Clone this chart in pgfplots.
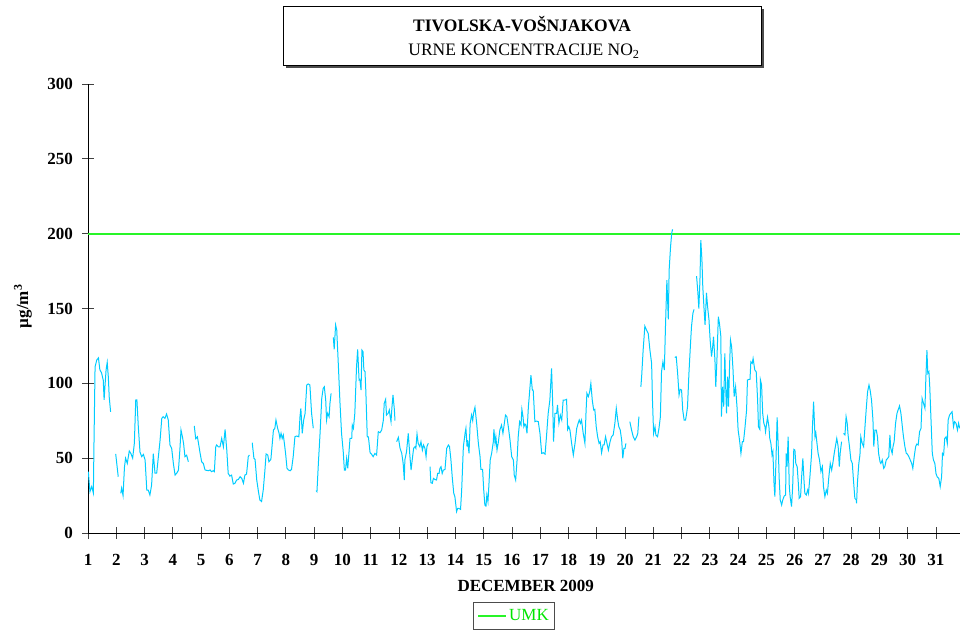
\documentclass[border=0pt]{standalone}
\usepackage{pgfplots}
\pgfplotsset{compat=1.18}
\usepackage{pgfplotstable}
\usepackage{fontspec}
\setmainfont{Liberation Serif}

\definecolor{nocyan}{RGB}{0,204,255}
\definecolor{umkgreen}{RGB}{40,245,40}
\definecolor{umktext}{RGB}{0,230,0}

% Hourly NO2 concentrations, December 2009 (day of month, ug/m3); nan = missing hours
\pgfplotstableread{
day no2
1.01 41
1.07 27.6
1.13 31
1.19 26.7
1.21 57.6
1.25 111
1.31 115.6
1.37 117
1.42 109
1.48 107
1.54 102
1.57 89
1.60 98
1.64 109
1.68 114
1.72 104
1.75 91
1.80 81
1.89 nan
1.98 52.8
2.07 37.6
2.12 nan
2.16 26.5
2.19 30
2.24 25
2.29 44
2.33 50
2.39 46.5
2.46 54.8
2.52 53
2.58 50
2.64 60
2.69 89
2.73 89
2.78 71
2.84 54
2.90 51
2.96 52.5
3.02 48.8
3.08 28.7
3.13 28.7
3.19 25.4
3.25 32
3.31 53
3.37 40
3.43 40
3.49 51
3.55 62
3.61 76.6
3.66 77.7
3.72 76.6
3.78 79.5
3.84 75.5
3.90 58.8
3.96 56.6
4.02 46.5
4.08 38.7
4.14 40
4.20 42
4.25 55.4
4.29 68.8
4.34 64.3
4.38 60
4.43 51
4.49 52
4.55 47.6
4.65 nan
4.76 71.5
4.81 63
4.87 64.3
4.90 61
4.96 54
5.02 47.6
5.08 46.5
5.14 42.1
5.26 41.6
5.32 42.1
5.37 41
5.43 41.6
5.47 41
5.52 57.6
5.55 58.8
5.61 57.6
5.67 57.6
5.73 63.2
5.79 57.6
5.85 69.2
5.91 55.4
5.96 39.8
6.02 38
6.08 38.7
6.14 32.7
6.20 33.2
6.26 35.4
6.32 35.8
6.38 37.6
6.44 36.5
6.50 33.2
6.55 38.7
6.61 39.4
6.67 51
6.71 52.1
6.76 nan
6.81 60.3
6.87 49.9
6.91 49.2
6.97 35.4
7.03 27.7
7.08 22.1
7.14 21
7.20 28.8
7.26 42.1
7.30 52.8
7.36 52.1
7.40 47.6
7.47 49.2
7.52 59.9
7.56 68.8
7.61 69.9
7.65 75.5
7.71 69.9
7.76 66.6
7.79 63.2
7.83 66.6
7.87 63.2
7.91 65.5
7.94 61
7.99 53.3
8.04 43.3
8.09 42.1
8.15 41.6
8.20 42.5
8.26 51
8.32 64.3
8.38 64.8
8.46 64.3
8.50 77.7
8.53 83.3
8.58 66.6
8.63 75.5
8.68 79.9
8.74 98.9
8.79 99.6
8.85 98.9
8.91 80
8.97 70
9.02 nan
9.07 28.3
9.10 27.6
9.15 46.5
9.21 66.6
9.27 90
9.32 96.6
9.36 97.7
9.41 88.8
9.44 75.5
9.48 80
9.53 77.7
9.56 86.6
9.60 93.3
9.64 nan
9.68 130.7
9.71 122.7
9.76 139
9.80 135.6
9.86 111
9.91 88.8
9.97 66.6
10.03 54.3
10.07 42
10.11 42
10.15 49.8
10.19 43.2
10.23 53.2
10.27 63.2
10.33 63.2
10.35 72.1
10.39 69.9
10.44 80
10.50 111
10.54 122.7
10.59 102.2
10.62 102.6
10.66 95.5
10.69 122.2
10.73 121.1
10.76 108.9
10.80 107.8
10.83 94.4
10.88 64.3
10.92 64.3
10.98 53.6
11.03 52.7
11.09 51
11.15 53.2
11.21 52.1
11.27 67.7
11.33 67
11.39 68.8
11.45 75.5
11.48 86.6
11.53 89.3
11.56 78.8
11.62 80
11.66 82.2
11.69 77.7
11.72 74.4
11.75 83.3
11.79 92.2
11.84 82.2
11.86 75.1
11.89 nan
11.92 61
11.98 63.9
12.04 56.6
12.10 53.2
12.15 46.5
12.19 35.4
12.21 48.8
12.27 54.3
12.33 66.6
12.39 51
12.43 42
12.47 48.8
12.52 56.6
12.57 57.7
12.60 56.6
12.64 66.1
12.68 60
12.74 57.7
12.78 61
12.83 55.4
12.87 58.8
12.92 56.6
12.96 51
12.99 57.7
13.04 60
13.07 nan
13.10 44.3
13.13 33.6
13.18 33.2
13.22 36.5
13.27 35.8
13.33 35.4
13.37 39.8
13.42 39.8
13.45 43.2
13.49 44.3
13.53 39.8
13.57 42
13.63 42.5
13.69 56.6
13.75 58.8
13.79 57.7
13.84 48.8
13.89 36.5
13.94 26.5
13.98 24.3
14.04 14.3
14.08 16.5
14.12 16.5
14.18 15.8
14.22 28.7
14.28 57.7
14.34 66.6
14.37 69.9
14.41 57.7
14.43 62.1
14.48 53.2
14.52 73.3
14.57 78.8
14.61 75.1
14.64 80
14.69 84
14.75 73.3
14.81 60
14.87 51
14.90 42.5
14.96 42.5
15.00 28.7
15.04 18.7
15.08 18
15.11 25.4
15.15 21
15.18 31
15.23 48.8
15.28 53.2
15.34 61
15.36 69.3
15.40 60
15.43 64.3
15.47 55.4
15.52 61
15.57 68.8
15.63 72.1
15.68 66.6
15.73 73.3
15.77 78.8
15.82 77.7
15.87 71
15.93 62.1
15.99 51
16.05 48.8
16.08 38.7
16.13 35.4
16.18 48.8
16.22 64.3
16.27 74.4
16.32 72.1
16.35 82.6
16.39 77.7
16.42 71
16.46 72.8
16.49 72.1
16.53 66.6
16.58 84.4
16.60 88.8
16.67 105.5
16.72 95.5
16.75 95.5
16.81 74.4
16.87 74.8
16.93 74.4
16.99 66.6
17.05 53.2
17.11 53.6
17.17 52.7
17.22 64.3
17.28 79.9
17.34 88.8
17.40 110
17.44 86.6
17.47 61
17.52 79.9
17.58 79.9
17.61 85.5
17.66 73.3
17.71 78.8
17.76 75.5
17.81 88.8
17.87 88.8
17.93 89.3
17.97 69.2
18.01 71
18.05 68.8
18.11 59.9
18.17 52.1
18.23 59.9
18.29 69.9
18.34 73.3
18.38 75.5
18.42 73.3
18.46 75.5
18.52 66.6
18.58 59.9
18.62 81
18.65 93.3
18.70 91.1
18.75 94.4
18.79 99.9
18.84 88.8
18.89 82.2
18.93 82.6
18.98 71
19.03 64.3
19.08 59.9
19.12 61
19.17 53.6
19.22 58.8
19.26 58.8
19.31 64.3
19.36 59.9
19.41 55.4
19.47 61
19.52 64.3
19.58 65.5
19.64 73.3
19.69 83.3
19.74 75.5
19.78 71
19.83 68.8
19.88 62.1
19.92 49.9
19.96 56.6
20.00 56.6
20.03 59.9
20.10 nan
20.17 74.4
20.23 68.8
20.29 64.3
20.35 62.1
20.41 64.3
20.45 66.6
20.49 77.7
20.52 nan
20.56 97.7
20.59 105.5
20.64 122.2
20.70 138.2
20.76 135.6
20.82 133.3
20.88 122.2
20.94 113.3
20.97 88.8
21.01 66.6
21.06 71
21.09 65.5
21.15 64.3
21.20 69.9
21.25 77.7
21.29 107.7
21.34 114.4
21.39 108.9
21.43 137.8
21.48 169
21.53 142.7
21.56 175.7
21.61 191.3
21.65 200.2
21.68 202.9
21.72 nan
21.76 117.3
21.81 117.8
21.86 106.7
21.91 92.2
21.95 96
22.00 95.5
22.04 82.2
22.09 75.5
22.14 75.5
22.18 80
22.21 84.4
22.26 106.7
22.31 124.5
22.35 137.8
22.40 146.7
22.44 149.4
22.48 nan
22.53 171.6
22.57 162.3
22.61 150
22.65 169
22.68 195.7
22.72 182.4
22.75 164.6
22.79 151.2
22.83 139
22.85 146.7
22.88 160.5
22.92 151.2
22.97 142.3
23.01 128.9
23.06 117.8
23.10 124.5
23.13 131.1
23.18 115.5
23.21 97.7
23.25 115.5
23.30 144.5
23.34 140
23.39 131.1
23.41 77.7
23.45 97.7
23.49 84.4
23.53 120
23.56 97.7
23.59 80
23.63 104.4
23.66 84.4
23.70 113.3
23.73 128.9
23.77 124.5
23.82 108.9
23.86 91.1
23.91 97.7
23.96 84.4
24.00 68.8
24.05 62.1
24.10 53.2
24.15 61
24.19 61
24.24 69.9
24.30 82.2
24.33 102.2
24.38 102.6
24.42 102.6
24.45 114.4
24.50 113.3
24.53 116.6
24.59 108.9
24.64 107.8
24.69 88.8
24.72 71
24.77 69.2
24.79 102.2
24.83 98.9
24.87 79.9
24.91 73.3
24.95 71
24.97 67.7
25.01 73.3
25.04 77.3
25.09 71
25.12 63.2
25.16 59.9
25.20 52.1
25.23 54.3
25.27 33.2
25.30 24.3
25.34 48.8
25.38 77.3
25.42 57.7
25.45 37.6
25.49 22.1
25.54 18.7
25.58 22.1
25.63 24.7
25.68 25.4
25.70 53.2
25.73 44.3
25.77 64.3
25.81 31
25.84 24.3
25.89 17.6
25.93 31
25.97 55.9
26.01 55.4
26.04 46.5
26.09 44.3
26.13 33.2
26.16 23.2
26.21 24.3
26.24 35.4
26.29 49.9
26.33 35.4
26.36 26.5
26.41 25.4
26.46 28.7
26.49 26.5
26.54 37.6
26.60 53.2
26.63 71
26.67 87.7
26.72 64.3
26.75 66.8
26.79 59.9
26.83 53.2
26.88 48.8
26.93 41
26.98 44.3
27.02 31
27.07 24.3
27.12 28.7
27.16 26.5
27.21 37.6
27.26 46.5
27.31 42.1
27.35 46.5
27.40 53.2
27.45 58.8
27.49 63.2
27.54 57.7
27.58 44.3
27.61 53.2
27.66 61
27.70 nan
27.73 66.6
27.78 65.5
27.82 77.7
27.86 73.3
27.89 65.5
27.94 57.7
27.99 48.8
28.04 46.5
28.08 35.4
28.13 23.2
28.18 22.1
28.19 19.8
28.22 33.2
28.27 46.5
28.31 52.1
28.34 64.3
28.39 59.9
28.44 57.7
28.48 68.8
28.53 82.2
28.58 94.4
28.63 98.9
28.67 95.5
28.72 88.8
28.77 75.5
28.80 57.7
28.84 68.8
28.89 68.8
28.93 64.3
28.97 53.2
29.02 47.6
29.05 46.5
29.10 48.8
29.15 43.2
29.19 44.3
29.24 48.8
29.29 49.9
29.33 51
29.37 65.5
29.40 56.6
29.45 53.2
29.48 57.7
29.52 61
29.57 73.3
29.62 79.9
29.66 82.2
29.71 84.9
29.76 79.9
29.81 71
29.85 64.3
29.90 57.7
29.95 53.2
29.99 52.7
30.04 51
30.09 48.8
30.14 46.5
30.18 43.2
30.23 51
30.28 57.7
30.32 59.4
30.37 58.8
30.42 67.7
30.47 69.9
30.51 89.9
30.56 86.6
30.61 83.3
30.64 102.2
30.68 122.2
30.71 106.6
30.75 107.8
30.78 97.7
30.82 77.7
30.87 53.2
30.91 48.8
30.96 46.5
31.00 39.8
31.04 37.6
31.10 36.5
31.15 31
31.20 37.6
31.23 53.2
31.27 52.1
31.31 63.2
31.36 64.3
31.40 59.9
31.43 75.5
31.48 78.8
31.52 79.9
31.57 81
31.62 71
31.66 74.4
31.71 73.3
31.76 68.8
31.80 73.3
31.84 69.9
}\hourly

\begin{document}
\begin{tikzpicture}[x=1bp,y=1bp]
\path[use as bounding box] (0bp,0bp) rectangle (960bp,631bp);

% title box with drop shadow
\fill[black!70] (286bp,563bp) rectangle (764bp,621.5bp);
\draw[black, fill=white, line width=0.8bp] (283bp,566bp) rectangle (761bp,624.5bp);
\node[anchor=base, font=\fontsize{17.5bp}{20bp}\selectfont\bfseries] at (522bp,599.5bp) {TIVOLSKA-VOŠNJAKOVA};
\node[anchor=base, font=\fontsize{17.5bp}{20bp}\selectfont] at (524bp,575bp) {URNE KONCENTRACIJE NO\textsubscript{2}};

\begin{axis}[
  at={(88bp,98bp)}, anchor=south west,
  scale only axis, width=872bp, height=449bp,
  xmin=1, xmax=31.85, ymin=0, ymax=300,
  xtick={1,...,31}, ytick={0,50,...,300},
  axis lines=left,
  axis line style={-, black, line width=0.8bp},
  tick align=center, major tick length=11bp,
  tick style={black!75, line width=0.8bp},
  /pgf/number format/assume math mode=true,
  tick label style={font=\fontsize{17bp}{20bp}\selectfont\bfseries},
  xticklabel style={yshift=-12bp},
  yticklabel style={xshift=-6bp},
  xlabel={DECEMBER 2009},
  xlabel style={at={(axis description cs:0.502,-0.118)}, anchor=center,
    font=\fontsize{17bp}{20bp}\selectfont\bfseries},
  ylabel={µg/m\textsuperscript{3}},
  ylabel style={at={(axis description cs:-0.0745,0.505)}, anchor=center,
    font=\fontsize{17bp}{20bp}\selectfont\bfseries},
  unbounded coords=jump,
  legend style={at={(axis description cs:0.4885,-0.1849)}, anchor=center,
    draw=black!70, line width=0.8bp, inner xsep=4bp, inner ysep=5bp,
    font=\fontsize{17bp}{20bp}\selectfont},
  legend image code/.code={\draw[#1] (0bp,0bp) -- (28bp,0bp);},
]
% limit value line (UMK)
\addplot[draw=umkgreen, line width=2bp] coordinates {(1,200) (31.85,200)};
\addlegendentry{\textcolor{umktext}{UMK}}
\addplot[draw=nocyan, line width=1bp, forget plot] table[x=day, y=no2] {\hourly};
\end{axis}
\end{tikzpicture}
\end{document}
